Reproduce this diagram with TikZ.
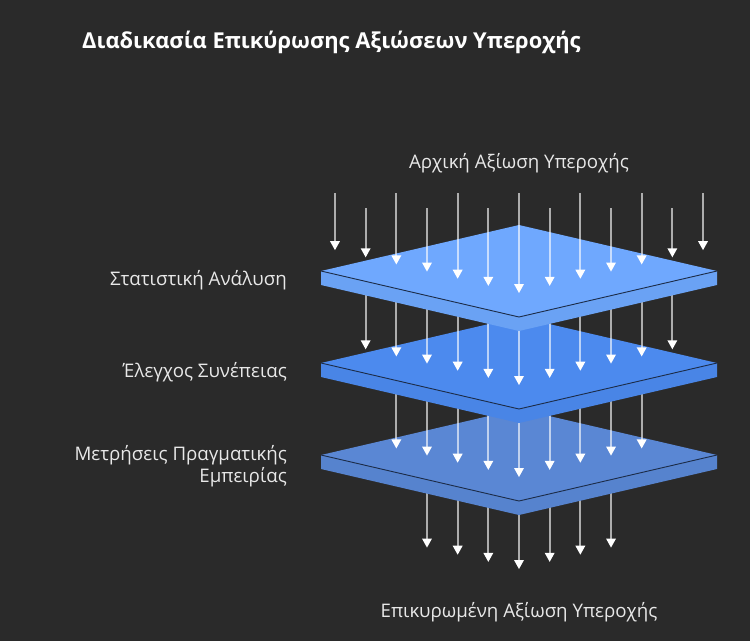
\documentclass[tikz,border=0pt]{standalone}
\usepackage{fontspec}
\setmainfont{Open Sans}
\definecolor{bg}{HTML}{2A2A2A}
\definecolor{plateA}{HTML}{6FA8FE}
\definecolor{plateAside}{HTML}{6AA2F4}
\definecolor{plateB}{HTML}{4C8AEE}
\definecolor{plateBside}{HTML}{4985E6}
\definecolor{plateC}{HTML}{5A87D4}
\definecolor{plateCside}{HTML}{5683CE}
\definecolor{edgecol}{HTML}{1C2C48}
\definecolor{labelcol}{HTML}{E8E8E8}
\newcommand\drawplate[3]{%
  \fill[#3] (321,#1) -- (519,{#1+46}) -- (717,#1) -- (717,{#1+14}) -- (519,{#1+60}) -- (321,{#1+14}) -- cycle;
  \fill[#2] (321,#1) -- (519,{#1-46}) -- (717,#1) -- (519,{#1+46}) -- cycle;
  \draw[edgecol, line width=0.9] (321,#1) -- (519,{#1+46}) -- (717,#1);
}
\newcommand\flowarrow[3]{%
  \draw[flowline] (#1,#2) -- (#1,{#3-6});
  \fill[white] ({#1-5},{#3-9}) -- ({#1+5},{#3-9}) -- (#1,#3) -- cycle;
}
\begin{document}
\begin{tikzpicture}[x=1pt,y=-1pt,
  flowline/.style={white, draw opacity=0.62, line width=2.1},
  lbl/.style={text=labelcol, font=\fontsize{18.7}{22}\selectfont, inner sep=0pt},
  ttl/.style={text=white, font=\bfseries\fontsize{21.9}{26}\selectfont, inner sep=0pt}]
\fill[bg] (0,0) rectangle (750,641);
\useasboundingbox (0,0) rectangle (750,641);
% group 4 (below plate 3)
\foreach \k in {-3,...,3}{
  \pgfmathsetmacro\xx{519+30.67*\k}
  \pgfmathsetmacro\yt{569-0.233*abs(\xx-519)}
  \flowarrow{\xx}{470}{\yt}
}
\drawplate{455}{plateC}{plateCside}
% group 3
\foreach \k in {-4,...,4}{
  \pgfmathsetmacro\xx{519+30.67*\k}
  \pgfmathsetmacro\yt{477-0.233*abs(\xx-519)}
  \flowarrow{\xx}{378}{\yt}
}
\drawplate{363}{plateB}{plateBside}
% group 2
\foreach \k in {-5,...,5}{
  \pgfmathsetmacro\xx{519+30.67*\k}
  \pgfmathsetmacro\yt{385-0.233*abs(\xx-519)}
  \flowarrow{\xx}{286}{\yt}
}
\drawplate{271}{plateA}{plateAside}
% group 1
\foreach \k in {-6,...,6}{
  \pgfmathsetmacro\xx{519+30.67*\k}
  \pgfmathsetmacro\ys{mod(abs(\k),2)==1 ? 208 : 193}
  \pgfmathsetmacro\yt{293-0.233*abs(\xx-519)}
  \flowarrow{\xx}{\ys}{\yt}
}
% texts
\node[ttl, anchor=base west] (title) at (82,48) {Διαδικασία Επικύρωσης Αξιώσεων Υπεροχής};
\node[lbl, anchor=base] (input) at (519,168) {Αρχική Αξίωση Υπεροχής};
\node[lbl, anchor=base] (output) at (519,617) {Επικυρωμένη Αξίωση Υπεροχής};
\node[lbl, anchor=base east] (l1) at (287,285) {Στατιστική Ανάλυση};
\node[lbl, anchor=base east] (l2) at (287,377) {Έλεγχος Συνέπειας};
\node[lbl, anchor=base east] (l3a) at (287,460) {Μετρήσεις Πραγματικής};
\node[lbl, anchor=base east] (l3b) at (287,482) {Εμπειρίας};
\end{tikzpicture}
\end{document}
